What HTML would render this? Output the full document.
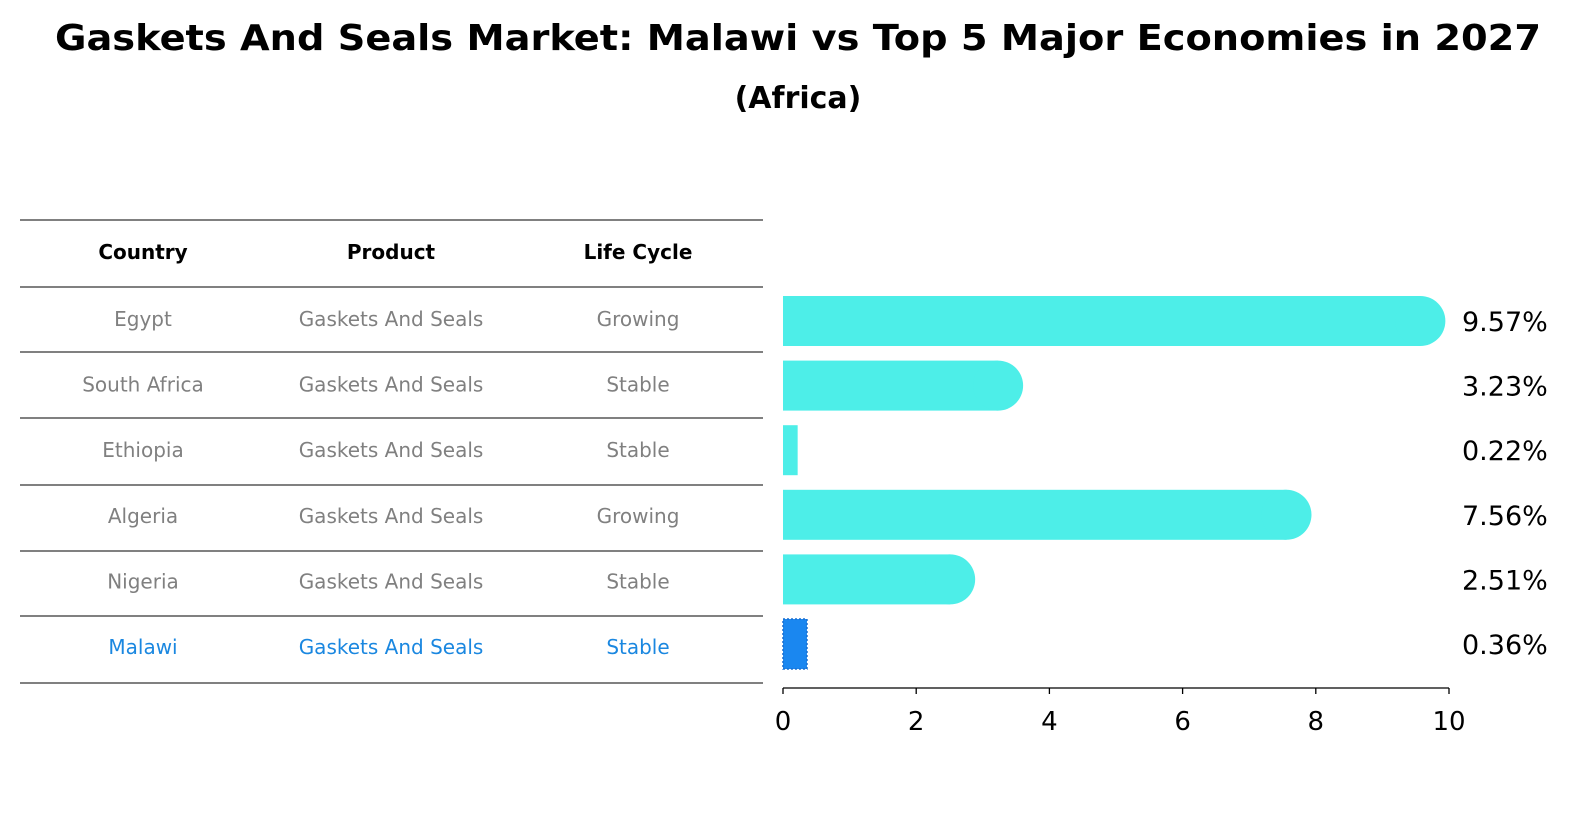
<!DOCTYPE html>
<html><head><meta charset="utf-8"><style>
body{margin:0;background:#fff;font-family:"DejaVu Sans","Liberation Sans",sans-serif}
</style></head><body>
<svg width="1586" height="823" xmlns="http://www.w3.org/2000/svg" font-family="DejaVu Sans, Liberation Sans, sans-serif">
<rect width="1586" height="823" fill="#fff"/>
<text x="798" y="50" text-anchor="middle" font-size="36" font-weight="bold" textLength="1486" lengthAdjust="spacingAndGlyphs">Gaskets And Seals Market: Malawi vs Top 5 Major Economies in 2027</text>
<text x="798" y="108" text-anchor="middle" font-size="30" font-weight="bold">(Africa)</text>
<g id="table"></g>
<g id="bars"></g>
</svg>
<script>
const countries=["Egypt","South Africa","Ethiopia","Algeria","Nigeria","Malawi"];
const products=["Gaskets And Seals","Gaskets And Seals","Gaskets And Seals","Gaskets And Seals","Gaskets And Seals","Gaskets And Seals"];
const lifecycles=["Growing","Stable","Stable","Growing","Stable","Stable"];
const values=[9.57,3.23,0.22,7.56,2.51,0.36];
const ticks=[0,2,4,6,8,10];
const NS="http://www.w3.org/2000/svg";
function mk(t,a,p,txt){const e=document.createElementNS(NS,t);for(const k in a)e.setAttribute(k,a[k]);if(txt!==undefined)e.textContent=txt;p.appendChild(e);return e;}
const tb=document.getElementById('table'),bg=document.getElementById('bars');
const lines=[220,287,352,418,485,551,616,683];
lines.forEach(y=>{const l=mk('line',{x1:20,x2:763,y1:y,y2:y,stroke:'#000','stroke-width':1},tb);

});
const cols=[143,391,638];
["Country","Product","Life Cycle"].forEach((h,i)=>{const t=mk('text',{x:cols[i],y:259,'text-anchor':'middle','font-size':20,'font-weight':'bold'},tb,h);

});
const rowY=i=>326+i*65.6;
countries.forEach((c,i)=>{
  const col=c==="Malawi"?"#1a87e0":"#808080";
  [c,products[i],lifecycles[i]].forEach((v,j)=>{const t=mk('text',{x:cols[j],y:rowY(i),'text-anchor':'middle','font-size':20,fill:col},tb,v);
  
  });
});
const x0=783,x1=1449,xs=v=>x0+(x1-x0)*v/10;
const barC=i=>321+i*64.6;
values.forEach((v,i)=>{
  const cy=barC(i),h=50,isM=countries[i]==="Malawi";
  const w=xs(v)-x0;
  if(isM){const r=mk('rect',{x:x0,y:cy-h/2,width:w,height:h,fill:'#1a87f0',stroke:'#1a6fd0','stroke-dasharray':'2,2','stroke-width':1.5},bg);
    
    }
  else{const g=mk('g',{},bg);
    
    
    mk('rect',{x:x0,y:cy-h/2,width:w,height:h,fill:'#4deee8'},g);
    if(v>1)mk('circle',{cx:xs(v),cy:cy,r:h/2,fill:'#4deee8'},g);}
  const t=mk('text',{x:1462,y:cy+10,'font-size':27},bg,v.toFixed(2)+'%');
  
  
});
const ax=mk('line',{x1:x0,x2:x1,y1:688,y2:688,stroke:'#000','stroke-width':1.3},bg);


ticks.forEach(t=>{mk('line',{x1:xs(t),x2:xs(t),y1:688,y2:694,stroke:'#000','stroke-width':1.3},bg);
  const l=mk('text',{x:xs(t),y:730,'text-anchor':'middle','font-size':26},bg,t);
  
  });
</script>
</body></html>
